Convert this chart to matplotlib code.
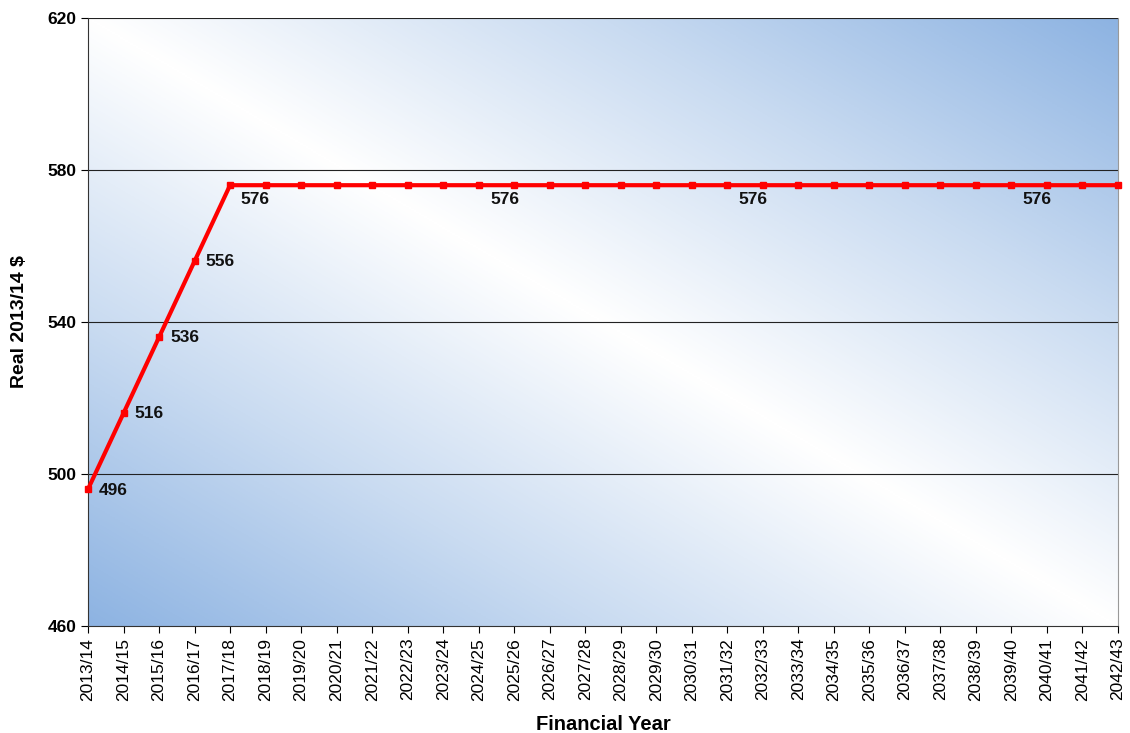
import matplotlib.pyplot as plt
import numpy as np
from matplotlib.colors import LinearSegmentedColormap

# Data
years = [f"{y}/{str(y + 1)[2:]}" for y in range(2013, 2043)]
values = [496, 516, 536, 556] + [576] * 26

# which points carry a value label, and where the label sits (offset in points)
label_idx = [0, 1, 2, 3, 4, 12, 19, 27]
label_off = [(8, -1, 'left'), (8, 0, 'left'), (8, 0, 'left'), (8, 0, 'left'),
             (18, -10, 'center'), (-7, -10, 'center'), (-7, -10, 'center'), (-7, -10, 'center')]

plt.rcParams['font.family'] = ['Liberation Sans', 'DejaVu Sans']

fig = plt.figure(figsize=(11.3, 7.33), dpi=100)
ax = fig.add_axes([88 / 1130, 107 / 733, 1030 / 1130, 608 / 733])

# diagonal gradient background: blue at bottom-left and top-right, white along the diagonal
u = np.linspace(0, 1, 400)
v = np.linspace(0, 1, 400)
U, V = np.meshgrid(u, v)          # V = 0 at top (imshow origin upper)
grad = np.abs(U - V)
cmap = LinearSegmentedColormap.from_list('bg', ['#ffffff', '#c9dbf1', '#8db3e2'])
ax.imshow(grad, cmap=cmap, extent=[0, 1, 0, 1], transform=ax.transAxes,
          aspect='auto', zorder=0, interpolation='bilinear')

x = np.arange(len(years))
ax.plot(x, values, color='#ff0000', lw=3, marker='s', markersize=4.5, zorder=3, clip_on=False)

for i, (dx, dy, ha) in zip(label_idx, label_off):
    ax.annotate(str(values[i]), (x[i], values[i]), xytext=(dx, dy), textcoords='offset points',
                ha=ha, va='center', fontsize=12.5, fontweight='bold', color='#111111', zorder=4)

ax.set_xlim(0, len(years) - 1)
ax.set_ylim(460, 620)
ax.set_yticks([460, 500, 540, 580, 620])
ax.set_xticks(x)
ax.set_xticklabels(years, rotation=90, fontsize=12.5)
ax.tick_params(axis='y', labelsize=12.5, length=5, direction='out')
ax.tick_params(axis='x', length=5, direction='out')
for lab in ax.get_yticklabels():
    lab.set_fontweight('bold')

for yv in [500, 540, 580, 620]:
    ax.axhline(yv, color='#222222', lw=0.8, zorder=1)

ax.spines['top'].set_visible(False)
ax.spines['right'].set_color('#999999')
ax.spines['left'].set_color('#333333')
ax.spines['bottom'].set_color('#333333')

ax.set_xlabel('Financial Year', fontsize=14.5, fontweight='bold', labelpad=10)
ax.set_ylabel('Real 2013/14 $', fontsize=14, fontweight='bold', labelpad=14)

fig.savefig('out.png', dpi=100)
